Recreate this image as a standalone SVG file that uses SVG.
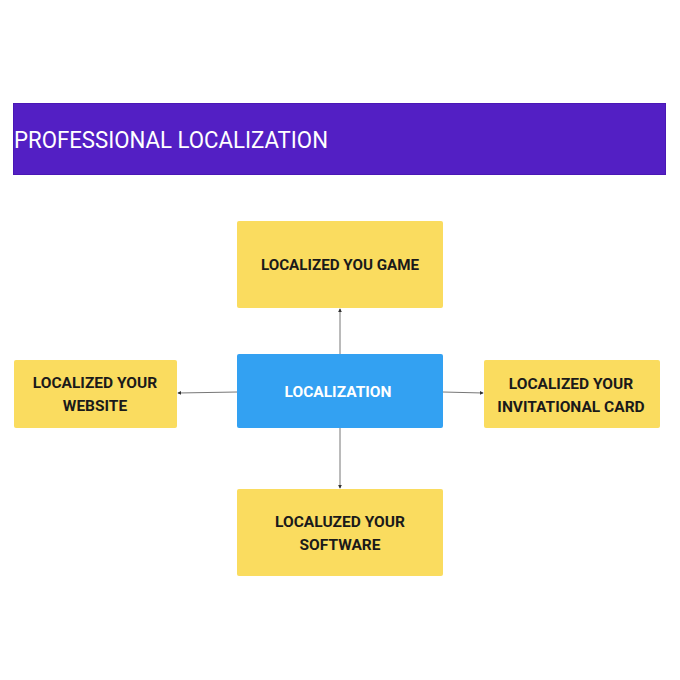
<svg xmlns="http://www.w3.org/2000/svg" width="680" height="680" viewBox="0 0 680 680">
<style>
.y{fill:#FADC5F;}
.t{font-family:Roboto,"Liberation Sans",sans-serif;font-weight:700;font-size:15.5px;fill:#1a1a1a;text-anchor:middle;}
.w{fill:#ffffff;}
.c{stroke:#777;stroke-width:1;fill:none;marker-end:url(#a);}
</style>
<defs>
<marker id="a" viewBox="0 0 6 6" refX="5" refY="3" markerWidth="4" markerHeight="4" orient="auto"><path d="M0,0 L6,3 L0,6 z" fill="#333"/></marker>
</defs>
<rect width="680" height="680" fill="#ffffff"/>
<g id="title">
<rect x="13.5" y="103.5" width="652" height="71" fill="#531FC4" stroke="#4A17B5"/>
<text x="14" y="148" font-family="Roboto,'Liberation Sans',sans-serif" font-size="23" fill="#ffffff" textLength="314" lengthAdjust="spacingAndGlyphs">PROFESSIONAL LOCALIZATION</text>
</g>
<g id="connectors">
<line class="c" x1="340" y1="354" x2="340" y2="309"/>
<line class="c" x1="237" y1="392" x2="178" y2="393"/>
<line class="c" x1="443" y1="392" x2="483" y2="393"/>
<line class="c" x1="340" y1="428" x2="340" y2="488"/>
</g>
<g id="game">
<rect class="y" x="237" y="221" width="206" height="87" rx="2"/>
<text class="t" x="340" y="270" textLength="158" lengthAdjust="spacingAndGlyphs">LOCALIZED YOU GAME</text>
</g>
<g id="center">
<rect x="237" y="354" width="206" height="74" rx="2" fill="#33A1F2"/>
<text class="t w" x="338" y="397">LOCALIZATION</text>
</g>
<g id="website">
<rect class="y" x="14" y="360" width="163" height="68" rx="2"/>
<text class="t" x="95" y="388">LOCALIZED YOUR</text>
<text class="t" x="95" y="411">WEBSITE</text>
</g>
<g id="card">
<rect class="y" x="484" y="360" width="176" height="68" rx="2"/>
<text class="t" x="571" y="389">LOCALIZED YOUR</text>
<text class="t" x="571" y="412">INVITATIONAL CARD</text>
</g>
<g id="software">
<rect class="y" x="237" y="489" width="206" height="87" rx="2"/>
<text class="t" x="340" y="527">LOCALUZED YOUR</text>
<text class="t" x="340" y="550">SOFTWARE</text>
</g>
</svg>
